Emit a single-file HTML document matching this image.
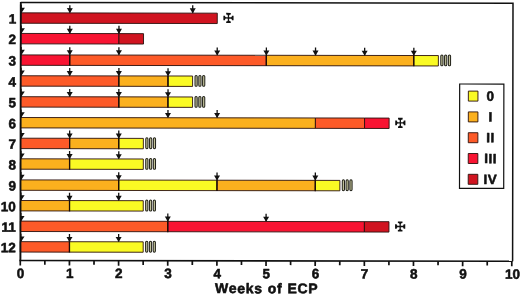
<!DOCTYPE html>
<html><head><meta charset="utf-8"><title>Weeks of ECP</title>
<style>
html,body{margin:0;padding:0;background:#fff;}
body{width:520px;height:295px;overflow:hidden;}
svg{display:block;filter:blur(0.4px);}
text{font-family:"Liberation Sans",Arial,Helvetica,sans-serif;font-weight:700;fill:#111;stroke:#111;stroke-width:0.55px;stroke-linejoin:round;}
.lbl{font-size:13.5px;}
.ttl{font-size:14px;letter-spacing:0.7px;word-spacing:0.5px;}
.leg{font-size:13.5px;letter-spacing:0.5px;}
</style></head><body>
<svg width="520" height="295" viewBox="0 0 520 295">
<defs>
<g id="arr"><path d="M0,-7.8V-0.4" stroke="#111" stroke-width="1.3" fill="none"/><path d="M-3,-4.8H3L0,0.3Z" fill="#111"/></g>
<g id="harr"><path d="M0.5,-8V-0.4" stroke="#111" stroke-width="1.3" fill="none"/><path d="M0,-5.2H4.2L0.6,0.3Z" fill="#111"/></g>
<g id="carm"><path d="M-0.65,0H0.65V-2.6Q0.9,-3.4 2.3,-3.5V-5.1H-2.3V-3.5Q-0.9,-3.4 -0.65,-2.6Z" fill="#111"/></g>
<g id="cross"><use href="#carm"/><use href="#carm" transform="rotate(90)"/><use href="#carm" transform="rotate(180)"/><use href="#carm" transform="rotate(270)"/></g>
<g id="hatch" fill="#c2c29a" stroke="#1e1e16" stroke-width="1"><rect x="2.4" y="-0.6" width="2.2" height="10.9" rx="1.1"/><rect x="6.2" y="-0.6" width="2.2" height="10.9" rx="1.1"/><rect x="10.0" y="-0.6" width="2.2" height="10.9" rx="1.1"/></g>
</defs>
<g transform="rotate(0.09 20 130)">
<path d="M20.5,2.5H512.8V260.5" fill="none" stroke="#111" stroke-width="1.5"/>
<rect x="20.50" y="12.85" width="196.60" height="10.4" fill="#d01420" stroke="#2a100c" stroke-width="0.9"/>
<use href="#harr" x="20.50" y="12.85"/>
<use href="#arr" x="69.65" y="12.85"/>
<use href="#arr" x="192.53" y="12.85"/>
<use href="#cross" x="228.30" y="17.65"/>
<text x="16" y="23.55" text-anchor="end" class="lbl">1</text>
<rect x="20.50" y="33.45" width="98.30" height="10.4" fill="#f81432" stroke="#2a100c" stroke-width="0.9"/>
<rect x="118.80" y="33.45" width="24.58" height="10.4" fill="#d01420" stroke="#2a100c" stroke-width="0.9"/>
<use href="#harr" x="20.50" y="33.45"/>
<use href="#arr" x="69.65" y="33.45"/>
<use href="#arr" x="118.80" y="33.45"/>
<text x="16" y="44.15" text-anchor="end" class="lbl">2</text>
<rect x="20.50" y="54.90" width="49.15" height="10.4" fill="#f81432" stroke="#2a100c" stroke-width="0.9"/>
<rect x="69.65" y="54.90" width="196.60" height="10.4" fill="#fd5a28" stroke="#2a100c" stroke-width="0.9"/>
<rect x="266.25" y="54.90" width="147.45" height="10.4" fill="#fbb01e" stroke="#2a100c" stroke-width="0.9"/>
<rect x="413.70" y="54.90" width="24.57" height="10.4" fill="#fafa24" stroke="#2a100c" stroke-width="0.9"/>
<path d="M69.65,54.50v11.20" stroke="#1c0c08" stroke-width="1.3"/>
<path d="M266.25,54.50v11.20" stroke="#1c0c08" stroke-width="1.3"/>
<path d="M413.70,54.50v11.20" stroke="#1c0c08" stroke-width="1.3"/>
<use href="#harr" x="20.50" y="54.90"/>
<use href="#arr" x="69.65" y="54.90"/>
<use href="#arr" x="118.80" y="54.90"/>
<use href="#arr" x="217.10" y="54.90"/>
<use href="#arr" x="266.25" y="54.90"/>
<use href="#arr" x="315.40" y="54.90"/>
<use href="#arr" x="364.55" y="54.90"/>
<use href="#arr" x="413.70" y="54.90"/>
<use href="#hatch" x="438.27" y="54.90"/>
<text x="16" y="65.60" text-anchor="end" class="lbl">3</text>
<rect x="20.50" y="75.75" width="98.30" height="10.4" fill="#fd5a28" stroke="#2a100c" stroke-width="0.9"/>
<rect x="118.80" y="75.75" width="49.15" height="10.4" fill="#fbb01e" stroke="#2a100c" stroke-width="0.9"/>
<rect x="167.95" y="75.75" width="24.58" height="10.4" fill="#fafa24" stroke="#2a100c" stroke-width="0.9"/>
<path d="M118.80,75.35v11.20" stroke="#1c0c08" stroke-width="1.3"/>
<path d="M167.95,75.35v11.20" stroke="#1c0c08" stroke-width="1.3"/>
<use href="#harr" x="20.50" y="75.75"/>
<use href="#arr" x="69.65" y="75.75"/>
<use href="#arr" x="118.80" y="75.75"/>
<use href="#arr" x="167.95" y="75.75"/>
<use href="#hatch" x="192.53" y="75.75"/>
<text x="16" y="86.45" text-anchor="end" class="lbl">4</text>
<rect x="20.50" y="96.70" width="98.30" height="10.4" fill="#fd5a28" stroke="#2a100c" stroke-width="0.9"/>
<rect x="118.80" y="96.70" width="49.15" height="10.4" fill="#fbb01e" stroke="#2a100c" stroke-width="0.9"/>
<rect x="167.95" y="96.70" width="24.58" height="10.4" fill="#fafa24" stroke="#2a100c" stroke-width="0.9"/>
<path d="M118.80,96.30v11.20" stroke="#1c0c08" stroke-width="1.3"/>
<path d="M167.95,96.30v11.20" stroke="#1c0c08" stroke-width="1.3"/>
<use href="#harr" x="20.50" y="96.70"/>
<use href="#arr" x="69.65" y="96.70"/>
<use href="#arr" x="118.80" y="96.70"/>
<use href="#arr" x="167.95" y="96.70"/>
<use href="#hatch" x="192.53" y="96.70"/>
<text x="16" y="107.40" text-anchor="end" class="lbl">5</text>
<rect x="20.50" y="117.50" width="294.90" height="10.4" fill="#fbb01e" stroke="#2a100c" stroke-width="0.9"/>
<rect x="315.40" y="117.50" width="49.15" height="10.4" fill="#fd5a28" stroke="#2a100c" stroke-width="0.9"/>
<rect x="364.55" y="117.50" width="24.57" height="10.4" fill="#f81432" stroke="#2a100c" stroke-width="0.9"/>
<use href="#harr" x="20.50" y="117.50"/>
<use href="#arr" x="167.95" y="117.50"/>
<use href="#arr" x="217.10" y="117.50"/>
<use href="#cross" x="400.32" y="122.30"/>
<text x="16" y="128.20" text-anchor="end" class="lbl">6</text>
<rect x="20.50" y="138.20" width="49.15" height="10.4" fill="#fd5a28" stroke="#2a100c" stroke-width="0.9"/>
<rect x="69.65" y="138.20" width="49.15" height="10.4" fill="#fbb01e" stroke="#2a100c" stroke-width="0.9"/>
<rect x="118.80" y="138.20" width="24.58" height="10.4" fill="#fafa24" stroke="#2a100c" stroke-width="0.9"/>
<path d="M69.65,137.80v11.20" stroke="#1c0c08" stroke-width="1.3"/>
<path d="M118.80,137.80v11.20" stroke="#1c0c08" stroke-width="1.3"/>
<use href="#harr" x="20.50" y="138.20"/>
<use href="#arr" x="69.65" y="138.20"/>
<use href="#arr" x="118.80" y="138.20"/>
<use href="#hatch" x="143.38" y="138.20"/>
<text x="16" y="148.90" text-anchor="end" class="lbl">7</text>
<rect x="20.50" y="158.80" width="49.15" height="10.4" fill="#fbb01e" stroke="#2a100c" stroke-width="0.9"/>
<rect x="69.65" y="158.80" width="73.72" height="10.4" fill="#fafa24" stroke="#2a100c" stroke-width="0.9"/>
<path d="M69.65,158.40v11.20" stroke="#1c0c08" stroke-width="1.3"/>
<use href="#harr" x="20.50" y="158.80"/>
<use href="#arr" x="69.65" y="158.80"/>
<use href="#arr" x="118.80" y="158.80"/>
<use href="#hatch" x="143.38" y="158.80"/>
<text x="16" y="169.50" text-anchor="end" class="lbl">8</text>
<rect x="20.50" y="179.90" width="98.30" height="10.4" fill="#fbb01e" stroke="#2a100c" stroke-width="0.9"/>
<rect x="118.80" y="179.90" width="98.30" height="10.4" fill="#fafa24" stroke="#2a100c" stroke-width="0.9"/>
<rect x="217.10" y="179.90" width="98.30" height="10.4" fill="#fbb01e" stroke="#2a100c" stroke-width="0.9"/>
<rect x="315.40" y="179.90" width="24.57" height="10.4" fill="#fafa24" stroke="#2a100c" stroke-width="0.9"/>
<path d="M118.80,179.50v11.20" stroke="#1c0c08" stroke-width="1.3"/>
<path d="M217.10,179.50v11.20" stroke="#1c0c08" stroke-width="1.3"/>
<path d="M315.40,179.50v11.20" stroke="#1c0c08" stroke-width="1.3"/>
<use href="#harr" x="20.50" y="179.90"/>
<use href="#arr" x="118.80" y="179.90"/>
<use href="#arr" x="217.10" y="179.90"/>
<use href="#arr" x="315.40" y="179.90"/>
<use href="#hatch" x="339.97" y="179.90"/>
<text x="16" y="190.60" text-anchor="end" class="lbl">9</text>
<rect x="20.50" y="200.50" width="49.15" height="10.4" fill="#fbb01e" stroke="#2a100c" stroke-width="0.9"/>
<rect x="69.65" y="200.50" width="73.72" height="10.4" fill="#fafa24" stroke="#2a100c" stroke-width="0.9"/>
<path d="M69.65,200.10v11.20" stroke="#1c0c08" stroke-width="1.3"/>
<use href="#harr" x="20.50" y="200.50"/>
<use href="#arr" x="69.65" y="200.50"/>
<use href="#arr" x="118.80" y="200.50"/>
<use href="#hatch" x="143.38" y="200.50"/>
<text x="16" y="211.20" text-anchor="end" class="lbl">10</text>
<rect x="20.50" y="221.10" width="147.45" height="10.4" fill="#fd5a28" stroke="#2a100c" stroke-width="0.9"/>
<rect x="167.95" y="221.10" width="196.60" height="10.4" fill="#f81432" stroke="#2a100c" stroke-width="0.9"/>
<rect x="364.55" y="221.10" width="24.57" height="10.4" fill="#d01420" stroke="#2a100c" stroke-width="0.9"/>
<path d="M167.95,220.70v11.20" stroke="#1c0c08" stroke-width="1.3"/>
<use href="#harr" x="20.50" y="221.10"/>
<use href="#arr" x="167.95" y="221.10"/>
<use href="#arr" x="266.25" y="221.10"/>
<use href="#cross" x="400.32" y="225.90"/>
<text x="16" y="231.80" text-anchor="end" class="lbl">11</text>
<rect x="20.50" y="241.65" width="49.15" height="10.4" fill="#fd5a28" stroke="#2a100c" stroke-width="0.9"/>
<rect x="69.65" y="241.65" width="73.72" height="10.4" fill="#fafa24" stroke="#2a100c" stroke-width="0.9"/>
<path d="M69.65,241.25v11.20" stroke="#1c0c08" stroke-width="1.3"/>
<use href="#harr" x="20.50" y="241.65"/>
<use href="#arr" x="69.65" y="241.65"/>
<use href="#arr" x="118.80" y="241.65"/>
<use href="#hatch" x="143.38" y="241.65"/>
<text x="16" y="252.35" text-anchor="end" class="lbl">12</text>
<path d="M20.6,2V260.5" fill="none" stroke="#111" stroke-width="1.9"/>
<path d="M19.6,260.5H512.8" fill="none" stroke="#111" stroke-width="1.6"/>
<path d="M20.50,260.5v5.0" stroke="#111" stroke-width="1.7"/>
<path d="M45.08,260.5v4.2" stroke="#111" stroke-width="1.7"/>
<path d="M69.65,260.5v5.0" stroke="#111" stroke-width="1.7"/>
<path d="M94.22,260.5v4.2" stroke="#111" stroke-width="1.7"/>
<path d="M118.80,260.5v5.0" stroke="#111" stroke-width="1.7"/>
<path d="M143.38,260.5v4.2" stroke="#111" stroke-width="1.7"/>
<path d="M167.95,260.5v5.0" stroke="#111" stroke-width="1.7"/>
<path d="M192.53,260.5v4.2" stroke="#111" stroke-width="1.7"/>
<path d="M217.10,260.5v5.0" stroke="#111" stroke-width="1.7"/>
<path d="M241.67,260.5v4.2" stroke="#111" stroke-width="1.7"/>
<path d="M266.25,260.5v5.0" stroke="#111" stroke-width="1.7"/>
<path d="M290.82,260.5v4.2" stroke="#111" stroke-width="1.7"/>
<path d="M315.40,260.5v5.0" stroke="#111" stroke-width="1.7"/>
<path d="M339.97,260.5v4.2" stroke="#111" stroke-width="1.7"/>
<path d="M364.55,260.5v5.0" stroke="#111" stroke-width="1.7"/>
<path d="M389.12,260.5v4.2" stroke="#111" stroke-width="1.7"/>
<path d="M413.70,260.5v5.0" stroke="#111" stroke-width="1.7"/>
<path d="M438.27,260.5v4.2" stroke="#111" stroke-width="1.7"/>
<path d="M462.85,260.5v5.0" stroke="#111" stroke-width="1.7"/>
<path d="M487.43,260.5v4.2" stroke="#111" stroke-width="1.7"/>
<path d="M512.00,260.5v5.0" stroke="#111" stroke-width="1.7"/>
<text x="20.80" y="277.9" text-anchor="middle" class="lbl">0</text>
<text x="69.95" y="277.9" text-anchor="middle" class="lbl">1</text>
<text x="119.10" y="277.9" text-anchor="middle" class="lbl">2</text>
<text x="168.25" y="277.9" text-anchor="middle" class="lbl">3</text>
<text x="217.40" y="277.9" text-anchor="middle" class="lbl">4</text>
<text x="266.55" y="277.9" text-anchor="middle" class="lbl">5</text>
<text x="315.70" y="277.9" text-anchor="middle" class="lbl">6</text>
<text x="364.85" y="277.9" text-anchor="middle" class="lbl">7</text>
<text x="414.00" y="277.9" text-anchor="middle" class="lbl">8</text>
<text x="463.15" y="277.9" text-anchor="middle" class="lbl">9</text>
<text x="512.80" y="277.9" text-anchor="middle" class="lbl">10</text>
<text x="267" y="292.8" text-anchor="middle" class="ttl">Weeks of ECP</text>
<rect x="459.6" y="83.3" width="44.2" height="104.4" fill="#fff" stroke="#111" stroke-width="1.2"/>
<rect x="468.3" y="90.40" width="9.6" height="10" fill="#fafa24" stroke="#2a100c" stroke-width="0.9"/>
<text x="490.6" y="100.00" text-anchor="middle" class="leg">0</text>
<rect x="468.3" y="111.20" width="9.6" height="10" fill="#fbb01e" stroke="#2a100c" stroke-width="0.9"/>
<text x="490.6" y="120.80" text-anchor="middle" class="leg">I</text>
<rect x="468.3" y="132.00" width="9.6" height="10" fill="#fd5a28" stroke="#2a100c" stroke-width="0.9"/>
<text x="490.6" y="141.60" text-anchor="middle" class="leg">II</text>
<rect x="468.3" y="152.80" width="9.6" height="10" fill="#f81432" stroke="#2a100c" stroke-width="0.9"/>
<text x="490.6" y="162.40" text-anchor="middle" class="leg">III</text>
<rect x="468.3" y="173.60" width="9.6" height="10" fill="#d01420" stroke="#2a100c" stroke-width="0.9"/>
<text x="490.6" y="183.20" text-anchor="middle" class="leg">IV</text>
</g>
</svg>
</body></html>
